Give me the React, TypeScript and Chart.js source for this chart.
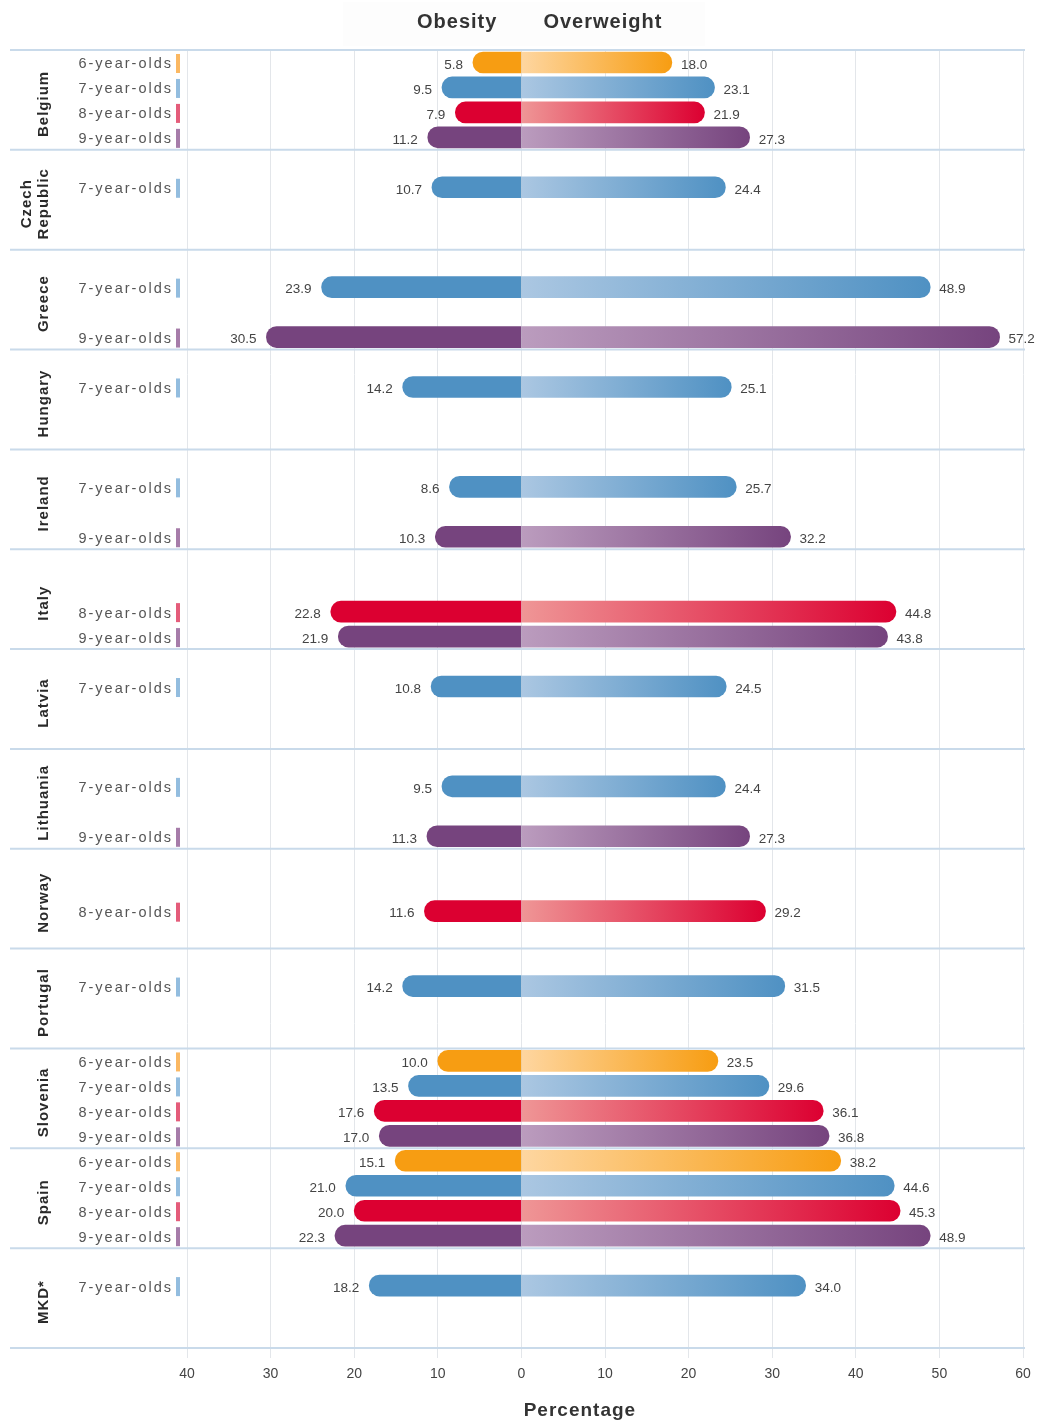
import React, { useEffect, useRef } from 'react';
import { Chart, registerables } from 'chart.js';

Chart.register(...registerables);

const countries = ['Belgium', 'Czech Republic', 'Greece', 'Hungary', 'Ireland', 'Italy', 'Latvia', 'Lithuania', 'Norway', 'Portugal', 'Slovenia', 'Spain', 'MKD*'];
const ageGroups = ['6-year-olds', '7-year-olds', '8-year-olds', '9-year-olds'];

// rows: countries, columns: age groups (6, 7, 8, 9); null = no data
const obesity: (number | null)[][] = [
  [5.8, 9.5, 7.9, 11.2],
  [null, 10.7, null, null],
  [null, 23.9, null, 30.5],
  [null, 14.2, null, null],
  [null, 8.6, null, 10.3],
  [null, null, 22.8, 21.9],
  [null, 10.8, null, null],
  [null, 9.5, null, 11.3],
  [null, null, 11.6, null],
  [null, 14.2, null, null],
  [10.0, 13.5, 17.6, 17.0],
  [15.1, 21.0, 20.0, 22.3],
  [null, 18.2, null, null],
];
const overweight: (number | null)[][] = [
  [18.0, 23.1, 21.9, 27.3],
  [null, 24.4, null, null],
  [null, 48.9, null, 57.2],
  [null, 25.1, null, null],
  [null, 25.7, null, 32.2],
  [null, null, 44.8, 43.8],
  [null, 24.5, null, null],
  [null, 24.4, null, 27.3],
  [null, null, 29.2, null],
  [null, 31.5, null, null],
  [23.5, 29.6, 36.1, 36.8],
  [38.2, 44.6, 45.3, 48.9],
  [null, 34.0, null, null],
];
const xMin = -40;
const xMax = 60;
const xStep = 10;

const solidColors = ['#F79D12', '#4F91C3', '#DC0031', '#76447E'];
const lightColors = ['#FED6A0', '#ABC7E2', '#EF9696', '#BB9CBE'];
const markColors = ['#FBB862', '#93BDDF', '#E45C7A', '#A67CA9'];

const FONT = "'Liberation Sans', Arial, sans-serif";

export default function App() {
  const ref = useRef<HTMLCanvasElement>(null);

  useEffect(() => {
    const canvas = ref.current!;
    const labels: string[] = [];
    countries.forEach((c) => ageGroups.forEach((a) => labels.push(c + ' ' + a)));
    const obsFlat = obesity.flat();
    const owFlat = overweight.flat();
    const obsData = obsFlat.map((v) => (v == null ? null : -v));
    const owData = owFlat.slice();

    const gradientFill = (ctx: any) => {
      const i = ctx.dataIndex;
      if (i == null) return solidColors[1];
      const age = i % 4;
      const chart = ctx.chart;
      const xs = chart.scales.x;
      const v = owFlat[i];
      if (!xs || v == null) return solidColors[age];
      const x0 = xs.getPixelForValue(0);
      const x1 = xs.getPixelForValue(v);
      if (!isFinite(x0) || !isFinite(x1) || x1 === x0) return solidColors[age];
      const g = chart.ctx.createLinearGradient(x0, 0, x1, 0);
      g.addColorStop(0, lightColors[age]);
      g.addColorStop(1, solidColors[age]);
      return g;
    };

    const decor = {
      id: 'decor',
      beforeDraw(chart: any) {
        const c = chart.ctx;
        c.save();
        c.fillStyle = '#FDFDFD';
        c.fillRect(343, 2, 362, 44);
        c.restore();
      },
      beforeDatasetsDraw(chart: any) {
        const c = chart.ctx;
        const ys = chart.scales.y;
        const n = countries.length;
        c.save();
        c.strokeStyle = '#C9DAEA';
        c.lineWidth = 2;
        for (let k = 0; k <= n; k++) {
          const y = ys.top + ((ys.bottom - ys.top) * k) / n;
          c.beginPath();
          c.moveTo(10, y);
          c.lineTo(chart.chartArea.right + 2, y);
          c.stroke();
        }
        c.restore();
      },
      afterDraw(chart: any) {
        const c = chart.ctx;
        const xs = chart.scales.x;
        const ys = chart.scales.y;
        const n = countries.length;
        const ds0 = chart.getDatasetMeta(0);
        c.save();
        // value labels
        c.font = '13.5px ' + FONT;
        c.fillStyle = '#444';
        c.textBaseline = 'middle';
        for (let i = 0; i < obsFlat.length; i++) {
          const ov = obsFlat[i];
          const wv = owFlat[i];
          if (ov == null || wv == null) continue;
          const y = ds0.data[i].y + 2.5;
          c.textAlign = 'right';
          c.fillText(ov.toFixed(1), xs.getPixelForValue(-ov) - 10, y);
          c.textAlign = 'left';
          c.fillText(wv.toFixed(1), xs.getPixelForValue(wv) + 9, y);
        }
        // age labels and marks
        c.font = '14.5px ' + FONT;
        c.letterSpacing = '2px';
        for (let k = 0; k < n; k++) {
          for (let a = 0; a < 4; a++) {
            if (obesity[k][a] == null) continue;
            const y = ys.getPixelForValue(k * 4 + a);
            c.fillStyle = '#555';
            c.textAlign = 'right';
            c.fillText(ageGroups[a], 173, y + 2);
            c.fillStyle = markColors[a];
            c.fillRect(176, y - 8.5, 4, 19);
          }
        }
        // country labels
        c.font = 'bold 15px ' + FONT;
        c.letterSpacing = '1px';
        c.fillStyle = '#2a2a2a';
        c.textAlign = 'center';
        for (let k = 0; k < n; k++) {
          const yc = ys.top + ((ys.bottom - ys.top) * (k + 0.5)) / n + 4;
          const lines = countries[k].split(' ');
          c.save();
          c.translate(0, yc);
          c.rotate(-Math.PI / 2);
          lines.forEach((ln, j) => {
            const x = 44 + (j - (lines.length - 1)) * 17;
            c.fillText(ln, 0, x);
          });
          c.restore();
        }
        // headers
        const x0 = xs.getPixelForValue(0);
        c.font = 'bold 20px ' + FONT;
        c.letterSpacing = '1px';
        c.fillStyle = '#333';
        c.textBaseline = 'middle';
        c.textAlign = 'right';
        c.fillText('Obesity', x0 - 24, 22);
        c.textAlign = 'left';
        c.fillText('Overweight', x0 + 22, 22);
        // axis title
        c.textAlign = 'center';
        c.font = 'bold 19px ' + FONT;
        c.fillText('Percentage', xs.getPixelForValue(7), 1411);
        c.restore();
      },
    };

    const chart = new Chart(canvas, {
      type: 'bar',
      data: {
        labels,
        datasets: [
          {
            label: 'Obesity',
            data: obsData,
            grouped: false,
            barThickness: 21,
            backgroundColor: (ctx: any) => solidColors[(ctx.dataIndex ?? 1) % 4],
            borderSkipped: false,
            borderRadius: { topLeft: 11, bottomLeft: 11, topRight: 0, bottomRight: 0 },
          } as any,
          {
            label: 'Overweight',
            data: owData,
            grouped: false,
            barThickness: 21,
            backgroundColor: gradientFill,
            borderSkipped: false,
            borderRadius: { topLeft: 0, bottomLeft: 0, topRight: 11, bottomRight: 11 },
          } as any,
        ],
      },
      options: {
        indexAxis: 'y',
        responsive: false,
        animation: false,
        layout: { padding: { left: 187, right: 27, top: 50, bottom: 0 } },
        plugins: { legend: { display: false }, tooltip: { enabled: false } },
        scales: {
          y: { display: false },
          x: {
            min: xMin,
            max: xMax,
            afterFit: (s: any) => {
              s.height = 75;
            },
            border: { display: false },
            grid: { color: '#E3E6EA', lineWidth: 1, tickLength: 10, tickColor: '#E3E6EA' },
            ticks: {
              stepSize: xStep,
              padding: 8,
              color: '#444',
              font: { family: FONT, size: 14 },
              callback: (v: any) => String(Math.abs(Number(v))),
            },
          },
        },
      },
      plugins: [decor],
    });
    return () => chart.destroy();
  }, []);

  return (
    <div style={{ position: 'absolute', left: 0, top: 0, width: 1050, height: 1423, background: '#fff' }}>
      <canvas ref={ref} width={1050} height={1423} style={{ display: 'block', width: 1050, height: 1423 }} />
    </div>
  );
}
